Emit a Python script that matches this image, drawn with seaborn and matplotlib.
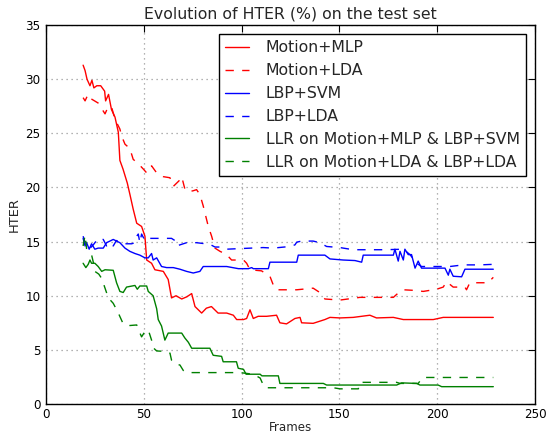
import numpy as np
import pandas as pd
import matplotlib
matplotlib.use("Agg")
import matplotlib.pyplot as plt
import seaborn as sns

# Values (frame, HTER %)
mlp_x = [19, 20, 21, 22.5, 23.5, 24.5, 26, 28, 30, 30.5, 32, 33.5, 35.3, 37, 37.8, 39.4, 41.6, 43, 44.6, 46.4,
         48.9, 50.6, 51.5, 54, 55.7, 60, 62.5, 64.2, 66.5, 69.4, 72, 74.5, 76.2, 79.6, 82, 84.6, 88, 92.4, 95.8, 97.5,
         101, 102.6, 104.3, 106, 108.5, 112.8, 117.9, 119.6, 123, 127.3, 129.9, 130.7, 136.6, 142.6, 145.2, 150.3,
         157.1, 165.6, 169, 177.6, 182.7, 198, 203.1, 216.7, 228.7]
mlp_y = [31.3, 30.8, 30.0, 29.4, 29.9, 29.2, 29.4, 29.4, 28.9, 28.0, 28.6, 27.2, 26.5, 25.1, 22.5, 21.7, 20.4, 19.3,
         18.0, 16.7, 16.4, 15.5, 13.3, 13.0, 12.4, 12.25, 11.5, 9.8, 10.0, 9.7, 9.9, 10.2, 9.0, 8.4, 8.85, 9.0, 8.4,
         8.4, 8.2, 7.8, 7.8, 7.9, 8.7, 7.9, 8.1, 8.1, 8.2, 7.5, 7.4, 7.9, 8.0, 7.5, 7.45, 7.8, 8.0, 7.95, 8.0, 8.2,
         7.95, 8.0, 7.8, 7.8, 8.0, 8.0, 8.0]

mlda_x = [19, 20, 21.5, 23, 26.7, 30.2, 31.9, 33.6, 35.3, 37.8, 38.7, 40.4, 42.9, 44.6, 47.2, 49.8, 51.5, 54, 56.6,
          60, 63.4, 65.1, 66.8, 68.5, 69.4, 71.1, 72.8, 75.3, 77, 78.7, 80.4, 83, 84.7, 86.4, 89, 92.4, 94.9, 101,
          102.6, 104.3, 110.2, 114.5, 116.2, 117.9, 128.2, 136.6, 140, 142.6, 150.3, 160.5, 177.6, 181, 182.7,
          187.8, 192.9, 199.7, 203.1, 204.8, 208.2, 214.2, 215, 216.7, 226, 228.7]
mlda_y = [28.3, 28.0, 28.6, 28.2, 27.8, 26.8, 27.5, 27.4, 26.3, 25.4, 24.75, 24.0, 23.6, 22.6, 22.2, 21.7, 21.35,
          22.0, 21.35, 21.0, 20.9, 20.1, 20.4, 20.7, 21.0, 19.8, 19.6, 19.7, 19.8, 19.35, 18.3, 16.4, 15.5, 14.4,
          14.1, 13.8, 13.3, 13.3, 13.0, 12.4, 12.3, 11.8, 11.0, 10.55, 10.55, 10.7, 10.3, 9.7, 9.6, 9.85, 9.85,
          10.4, 10.55, 10.5, 10.4, 10.6, 10.8, 11.3, 10.8, 10.8, 10.55, 11.2, 11.2, 11.7]

svm_x = [19, 20, 20.8, 22.1, 23.3, 25, 26.7, 29.3, 31, 34.4, 37.8, 40.4, 42.9, 45.5, 48, 50.6, 52.3, 54, 54.8, 56.6,
         59.1, 61.7, 65.1, 68.5, 71.9, 75.3, 78.7, 80.4, 92.4, 98.4, 103.5, 105.2, 106, 113.7, 114.5, 128.2, 129,
         142.6, 145.2, 152, 158, 161.4, 162.2, 177.6, 178.4, 180.1, 181, 182.7, 183.5, 185.2, 186.9, 188.7, 190.3,
         192, 204, 205.7, 206.5, 208.2, 212.5, 214.2, 228.7]
svm_y = [15.3, 14.6, 14.9, 14.3, 14.8, 14.3, 14.4, 14.4, 14.9, 15.2, 14.9, 14.4, 14.1, 13.9, 13.75, 13.5, 13.5,
         13.9, 13.3, 13.5, 12.7, 12.6, 12.6, 12.45, 12.25, 12.1, 12.25, 12.7, 12.7, 12.5, 12.5, 12.6, 12.5, 12.5,
         13.1, 13.1, 13.75, 13.75, 13.4, 13.3, 13.25, 13.1, 13.75, 13.75, 14.3, 13.2, 14.1, 13.3, 14.3, 13.8,
         13.8, 12.55, 13.2, 12.55, 12.55, 11.9, 12.45, 11.8, 11.75, 12.45, 12.45]

llda_x = [19, 20, 20.8, 22.1, 24.2, 26.7, 29.3, 31, 32.7, 34.4, 36, 39.5, 43.8, 45.5, 46.4, 47.2, 48, 48.9, 50.6,
          52.3, 64.2, 65.9, 66.8, 71.9, 77, 83.8, 86.4, 89.8, 92.4, 111, 116.2, 124.7, 127.3, 128.2, 130.7, 136.6,
          140, 143.5, 150.3, 157.1, 173.3, 182.7, 186.1, 189.5, 192, 206.5, 213.3, 221.8, 228.7]
llda_y = [15.5, 14.9, 14.5, 14.3, 14.7, 15.3, 15.2, 14.6, 14.9, 14.6, 15.1, 14.8, 14.8, 14.9, 15.5, 15.7, 14.9,
          15.7, 15.1, 15.3, 15.3, 15.1, 14.6, 14.9, 14.9, 14.75, 14.5, 14.5, 14.3, 14.45, 14.4, 14.55, 14.7, 14.95,
          15.05, 15.05, 14.9, 14.55, 14.45, 14.25, 14.25, 14.3, 13.8, 13.0, 12.7, 12.7, 12.85, 12.85, 12.9]

llr1_x = [19, 20.4, 21.6, 22.5, 23.3, 25, 26.7, 28.5, 30.2, 34.4, 36.1, 37.8, 39.5, 41.2, 45.5, 46.7, 48, 51.5,
          52.3, 54.8, 56.6, 57.4, 59.1, 60.8, 62.5, 69.4, 71, 72.8, 74.5, 83.8, 85.5, 89.8, 90.6, 97.4, 98.3, 101,
          102.3, 109.5, 110.4, 118.8, 119.6, 141.8, 143.5, 179.3, 181.8, 189.5, 191.2, 200.5, 202.3, 228.7]
llr1_y = [13.0, 12.6, 12.9, 13.3, 13.0, 13.0, 12.7, 12.25, 12.4, 12.35, 11.2, 10.4, 10.3, 10.8, 10.95, 10.6, 10.9,
          10.9, 10.4, 10.0, 8.8, 7.8, 7.2, 5.9, 6.55, 6.55, 6.1, 5.7, 5.15, 5.15, 4.5, 4.4, 3.9, 3.9, 3.3, 3.2,
          2.75, 2.75, 2.6, 2.6, 1.9, 1.9, 1.75, 1.75, 1.95, 1.9, 1.75, 1.75, 1.6, 1.6]

llr2_x = [19, 20, 20.8, 23.3, 24.2, 25, 27, 28.5, 30.2, 31.9, 34.4, 37, 39.5, 42.9, 46.4, 47.2, 48.9, 50.6, 52.3,
          54, 54.8, 56.6, 61.7, 63.4, 64.2, 66, 68.5, 70.2, 71.9, 99.2, 106, 109.5, 111.1, 112, 146.9, 150.3, 159.7,
          160.5, 179.3, 181, 190.3, 192.6, 228.7]
llr2_y = [14.6, 15.6, 14.3, 13.8, 13.1, 12.25, 12.0, 11.6, 10.7, 9.8, 9.3, 8.4, 7.4, 7.25, 7.3, 6.9, 6.2, 6.7,
          6.85, 5.9, 5.2, 4.9, 4.85, 4.7, 4.05, 3.7, 3.6, 3.1, 2.9, 2.9, 2.75, 2.4, 1.75, 1.5, 1.5, 1.4, 1.4, 2.0,
          2.0, 1.9, 1.9, 2.45, 2.45]

labels = ["Motion+MLP", "Motion+LDA", "LBP+SVM", "LBP+LDA",
          "LLR on Motion+MLP & LBP+SVM", "LLR on Motion+LDA & LBP+LDA"]
series = [(mlp_x, mlp_y), (mlda_x, mlda_y), (svm_x, svm_y), (llda_x, llda_y),
          (llr1_x, llr1_y), (llr2_x, llr2_y)]
colors = ["red", "red", "blue", "blue", "green", "green"]
solid = [True, False, True, False, True, False]

frames = []
for lab, (xs, ys) in zip(labels, series):
    frames.append(pd.DataFrame({"Frames": xs, "HTER": ys, "method": lab}))
df = pd.concat(frames, ignore_index=True)

sns.set_style("white")
plt.rcParams["font.family"] = ["DejaVu Sans"]

fig = plt.figure(figsize=(5.47, 4.33), dpi=100)
ax = fig.add_axes([0.084, 0.067, 0.894, 0.875])

palette = dict(zip(labels, colors))
dashes = {lab: "" if s else (6, 6) for lab, s in zip(labels, solid)}
sns.lineplot(data=df, x="Frames", y="HTER", hue="method", style="method",
             hue_order=labels, style_order=labels, palette=palette, dashes=dashes,
             estimator=None, sort=False, lw=1.0, ax=ax)

ax.set_xlim(0, 250)
ax.set_ylim(0, 35)
ax.set_xticks(range(0, 251, 50))
ax.set_yticks(range(0, 36, 5))
ax.grid(True, color="0.6", linestyle=(0, (1, 3)), linewidth=0.9)
for sp in ax.spines.values():
    sp.set_color("black")
    sp.set_linewidth(1.0)
ax.tick_params(direction="in", length=5, width=0.8, top=True, right=True,
               labelsize=8.6, pad=4, colors="black")
ax.tick_params(axis="x", pad=3)
ax.set_title("Evolution of HTER (%) on the test set", fontsize=11.3, pad=5)
ax.set_xlabel("Frames", fontsize=8.6, labelpad=0)
ax.set_ylabel("HTER", fontsize=9.4, labelpad=3)

handles, labs = ax.get_legend_handles_labels()
leg = ax.legend(handles, labs, loc="upper right", bbox_to_anchor=(0.982, 0.976),
                borderaxespad=0, fontsize=11.3, fancybox=False, framealpha=1,
                edgecolor="black", handlelength=1.5, labelspacing=0.5,
                handletextpad=1.1, borderpad=0.4)
leg.get_frame().set_linewidth(1.0)

fig.savefig("out.png", dpi=100)
